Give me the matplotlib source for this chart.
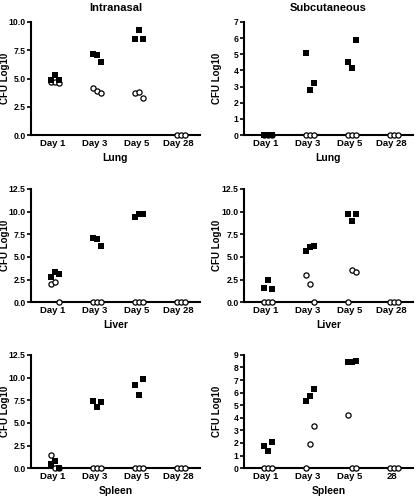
import matplotlib
matplotlib.use("Agg")
import matplotlib.pyplot as plt
import numpy as np

plt.rcParams['font.family'] = ['Liberation Sans', 'DejaVu Sans']
plt.rcParams['font.weight'] = 'bold'

days = ["Day 1", "Day 3", "Day 5", "Day 28"]
days_last = ["Day 1", "Day 3", "Day 5", "28"]

# Intranasal
in_lung_filled = [[4.9, 5.3, 4.9], [7.2, 7.1, 6.5], [8.5, 9.3, 8.5], []]
in_lung_open = [[4.7, 4.7, 4.6], [4.2, 3.9, 3.7], [3.7, 3.8, 3.3], [0, 0, 0]]
in_liver_filled = [[2.8, 3.35, 3.1], [7.1, 7.0, 6.2], [9.4, 9.7, 9.7], []]
in_liver_open = [[1.95, 2.2, 0], [0, 0, 0], [0, 0, 0], [0, 0, 0]]
in_spleen_filled = [[0.5, 0.8, 0], [7.4, 6.8, 7.3], [9.2, 8.1, 9.8], []]
in_spleen_open = [[1.4, 0, 0], [0, 0, 0], [0, 0, 0], [0, 0, 0]]

# Subcutaneous
sc_lung_filled = [[0, 0, 0], [5.1, 2.8, 3.25], [4.5, 4.15, 5.9], []]
sc_lung_open = [[0, 0, 0], [0, 0, 0], [0, 0, 0], [0, 0, 0]]
sc_liver_filled = [[1.6, 2.4, 1.5], [5.7, 6.1, 6.2], [9.7, 9.0, 9.7], []]
sc_liver_open = [[0, 0, 0], [3.0, 2.05, 0], [0, 3.6, 3.3], [0, 0, 0]]
sc_spleen_filled = [[1.8, 1.4, 2.05], [5.35, 5.75, 6.3], [8.4, 8.45, 8.5], []]
sc_spleen_open = [[0, 0, 0], [0, 1.95, 3.35], [4.25, 0, 0], [0, 0, 0]]

panels = [
    (in_lung_filled, in_lung_open, 10, np.arange(0, 10.01, 2.5), "%.1f", "Lung", "Intranasal", days),
    (sc_lung_filled, sc_lung_open, 7, np.arange(0, 8, 1), "%d", "Lung", "Subcutaneous", days),
    (in_liver_filled, in_liver_open, 12.5, np.arange(0, 12.51, 2.5), "%.1f", "Liver", None, days),
    (sc_liver_filled, sc_liver_open, 12.5, np.arange(0, 12.51, 2.5), "%.1f", "Liver", None, days),
    (in_spleen_filled, in_spleen_open, 12.5, np.arange(0, 12.51, 2.5), "%.1f", "Spleen", None, days),
    (sc_spleen_filled, sc_spleen_open, 9, np.arange(0, 10, 1), "%d", "Spleen", None, days_last),
]

fig = plt.figure(figsize=(4.16, 4.97), dpi=100)
lefts = [0.075, 0.587]
width = 0.405
bottoms = [0.728, 0.392, 0.058]
height = 0.228
offsets = np.array([-0.1, 0.0, 0.1]) + 0.06
ylabel_x = [-0.128, -0.13]

for i, (filled, opn, ymax, yt, fmt, xl, title, labels) in enumerate(panels):
    r, c = divmod(i, 2)
    ax = fig.add_axes([lefts[c], bottoms[r], width, height])
    for j in range(4):
        if opn[j]:
            xs = j + 1 + offsets[:len(opn[j])]
            ax.scatter(xs, opn[j], marker='o', s=14, facecolors='white', edgecolors='black',
                       linewidths=0.9, zorder=3, clip_on=False)
        if filled[j]:
            xs = j + 1 + offsets[:len(filled[j])]
            ax.scatter(xs, filled[j], marker='s', s=22, color='black', zorder=4, clip_on=False, linewidths=0)
    ax.set_xlim(0.5, 4.5)
    ax.set_ylim(0, ymax)
    ax.set_yticks(yt)
    ax.set_yticklabels([fmt % v for v in yt])
    ax.set_xticks([1, 2, 3, 4])
    ax.set_xticklabels(labels)
    for s in ['top', 'right']:
        ax.spines[s].set_visible(False)
    for s in ['left', 'bottom']:
        ax.spines[s].set_linewidth(1.5)
    ax.tick_params(axis='y', length=3, width=1.2, labelsize=6.2, pad=1)
    ax.tick_params(axis='x', length=0, labelsize=6.8, pad=3)
    ax.set_ylabel("CFU Log10", fontsize=7, fontweight='bold')
    ax.yaxis.set_label_coords(ylabel_x[c], 0.5)
    ax.set_xlabel(xl, fontsize=7.5, fontweight='bold', labelpad=3)
    if title:
        ax.set_title(title, fontsize=8, fontweight='bold', pad=8)

fig.savefig("out.png", dpi=100)
